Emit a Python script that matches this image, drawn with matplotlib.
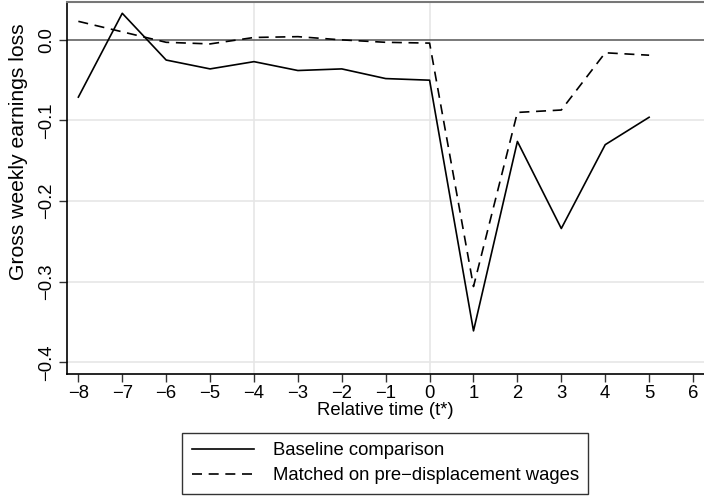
import numpy as np
import matplotlib
matplotlib.use("Agg")
import matplotlib.pyplot as plt

plt.rcParams['font.family'] = ['Liberation Sans', 'DejaVu Sans']
plt.rcParams['font.size'] = 13.3

# relative time and the two estimated earnings-loss paths
rel_time = [-8, -7, -6, -5, -4, -3, -2, -1, 0, 1, 2, 3, 4, 5]
baseline = [-0.071, 0.033, -0.025, -0.036, -0.027, -0.038, -0.036,
            -0.048, -0.050, -0.361, -0.126, -0.234, -0.130, -0.096]
matched = [0.023, 0.010, -0.003, -0.005, 0.003, 0.004, 0.000,
           -0.003, -0.004, -0.306, -0.090, -0.087, -0.016, -0.019]

x_ticks = list(range(-8, 7))
y_ticks = [0.0, -0.1, -0.2, -0.3, -0.4]
y_tick_labels = ["0.0", "\u22120.1", "\u22120.2", "\u22120.3", "\u22120.4"]
x_tick_labels = [str(t).replace("-", "\u2212") for t in x_ticks]

fig = plt.figure(figsize=(7.04, 4.97), dpi=100)
ax = fig.add_axes([66.5 / 704, 1 - 374 / 497, (704 - 66.5) / 704, (374 - 2) / 497])

# light grid
for yv in [-0.1, -0.2, -0.3, -0.4]:
    ax.axhline(yv, color="#e6e6e6", lw=1.2, zorder=0)
for xv in [-4, 0]:
    ax.axvline(xv, color="#e6e6e6", lw=1.2, zorder=0)
ax.axhline(0, color="#555555", lw=1.1, zorder=1)

ax.plot(rel_time, baseline, color="black", lw=1.2, label="Baseline comparison")
ax.plot(rel_time, matched, color="black", lw=1.2, ls=(0, (6, 4)),
        label="Matched on pre\u2212displacement wages")

ax.set_xlim(-8.27, 6.25)
ax.set_ylim(-0.4145, 0.047)
ax.set_xticks(x_ticks)
ax.set_xticklabels(x_tick_labels)
ax.set_yticks(y_ticks)
ax.set_yticklabels(y_tick_labels, rotation=90, va="center")
ax.tick_params(direction="out", length=6, width=1, color="#333333", pad=2)

ax.spines["right"].set_visible(False)
ax.spines["top"].set_color("#777777")
ax.spines["top"].set_linewidth(1.5)
ax.spines["left"].set_linewidth(1.2)
ax.spines["bottom"].set_linewidth(1.2)

ax.set_xlabel("Relative time (t*)", labelpad=0)
ax.set_ylabel("Gross weekly earnings loss", fontsize=15.2)
ax.yaxis.set_label_coords(-0.061, 0.597)

leg = ax.legend(loc="upper center", bbox_to_anchor=(0.5, -0.158), ncol=1,
                frameon=True, fancybox=False, edgecolor="black",
                handlelength=3.4, borderpad=0.5, labelspacing=0.45,
                handletextpad=1.0, borderaxespad=0)
leg.get_frame().set_linewidth(1.0)

fig.savefig("out.png", dpi=100)
